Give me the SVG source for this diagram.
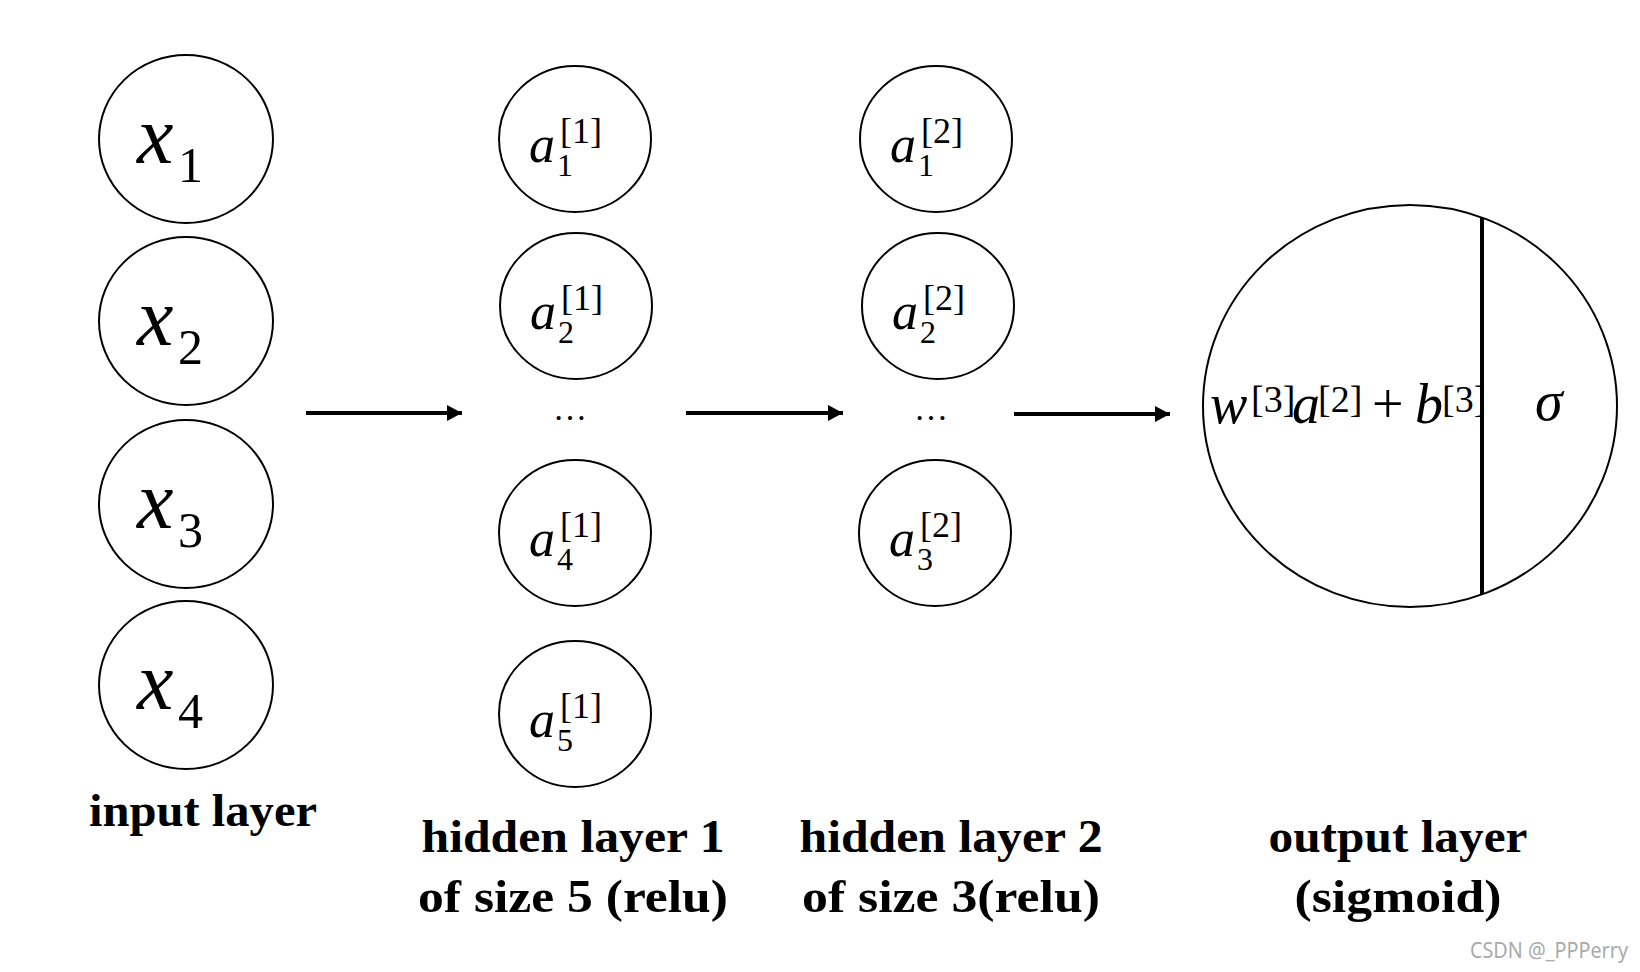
<svg xmlns="http://www.w3.org/2000/svg" width="1640" height="972" viewBox="0 0 1640 972">
<defs>
<style>
.node{fill:#fff;stroke:#000;stroke-width:2}
.m{font-family:"Liberation Serif",serif;font-style:italic;fill:#000}
.u{font-family:"Liberation Serif",serif;font-style:normal;fill:#000}
.lbl{font-family:"Liberation Serif",serif;font-weight:bold;font-size:46px;fill:#000;text-anchor:middle}
.conn{stroke:#000;stroke-width:4;fill:none}
</style>
<marker id="ah" markerWidth="16" markerHeight="16" refX="15" refY="8" orient="auto" markerUnits="userSpaceOnUse">
<path d="M0,0 L15,8 L0,16 Z" fill="#000"/>
</marker>
</defs>
<rect width="1640" height="972" fill="#fff"/>

<g id="x1"><ellipse class="node" cx="186" cy="139" rx="87" ry="84"/>
<text class="m" x="137" y="163" font-size="82">x</text><text class="u" x="178" y="182" font-size="50">1</text></g>
<g id="x2"><ellipse class="node" cx="186" cy="321" rx="87" ry="84"/>
<text class="m" x="137" y="345" font-size="82">x</text><text class="u" x="178" y="364" font-size="50">2</text></g>
<g id="x3"><ellipse class="node" cx="186" cy="504" rx="87" ry="84"/>
<text class="m" x="137" y="528" font-size="82">x</text><text class="u" x="178" y="547" font-size="50">3</text></g>
<g id="x4"><ellipse class="node" cx="186" cy="685" rx="87" ry="84"/>
<text class="m" x="137" y="709" font-size="82">x</text><text class="u" x="178" y="728" font-size="50">4</text></g>

<g id="h1_1"><ellipse class="node" cx="575" cy="139" rx="76" ry="73"/>
<text class="m" x="529" y="162" font-size="52">a</text><text class="u" x="557" y="176" font-size="32">1</text><text class="u" x="560" y="143" font-size="36">[1]</text></g>
<g id="h1_2"><ellipse class="node" cx="576" cy="306" rx="76" ry="73"/>
<text class="m" x="530" y="329" font-size="52">a</text><text class="u" x="558" y="343" font-size="32">2</text><text class="u" x="561" y="310" font-size="36">[1]</text></g>
<g id="h1_dots"><text class="u" x="570" y="420" font-size="34" text-anchor="middle">…</text></g>
<g id="h1_4"><ellipse class="node" cx="575" cy="533" rx="76" ry="73"/>
<text class="m" x="529" y="556" font-size="52">a</text><text class="u" x="557" y="570" font-size="32">4</text><text class="u" x="560" y="537" font-size="36">[1]</text></g>
<g id="h1_5"><ellipse class="node" cx="575" cy="714" rx="76" ry="73"/>
<text class="m" x="529" y="737" font-size="52">a</text><text class="u" x="557" y="751" font-size="32">5</text><text class="u" x="560" y="718" font-size="36">[1]</text></g>

<g id="h2_1"><ellipse class="node" cx="936" cy="139" rx="76" ry="73"/>
<text class="m" x="890" y="162" font-size="52">a</text><text class="u" x="918" y="176" font-size="32">1</text><text class="u" x="921" y="143" font-size="36">[2]</text></g>
<g id="h2_2"><ellipse class="node" cx="938" cy="306" rx="76" ry="73"/>
<text class="m" x="892" y="329" font-size="52">a</text><text class="u" x="920" y="343" font-size="32">2</text><text class="u" x="923" y="310" font-size="36">[2]</text></g>
<g id="h2_dots"><text class="u" x="931" y="420" font-size="34" text-anchor="middle">…</text></g>
<g id="h2_3"><ellipse class="node" cx="935" cy="533" rx="76" ry="73"/>
<text class="m" x="889" y="556" font-size="52">a</text><text class="u" x="917" y="570" font-size="32">3</text><text class="u" x="920" y="537" font-size="36">[2]</text></g>

<g id="output"><ellipse class="node" cx="1410" cy="406" rx="207" ry="201"/>
<line x1="1482" y1="218" x2="1482" y2="594" stroke="#000" stroke-width="4"/>
<text class="m" x="1210" y="423" font-size="56">w</text>
<text class="u" x="1251" y="412" font-size="38">[3]</text>
<text class="m" x="1292" y="423" font-size="56">a</text>
<text class="u" x="1318" y="412" font-size="38">[2]</text>
<text class="u" x="1372" y="423" font-size="56">+</text>
<text class="m" x="1415" y="423" font-size="56">b</text>
<text class="u" x="1442" y="412" font-size="38">[3]</text>
<text class="m" x="1535" y="420" font-size="56">σ</text>
</g>

<g id="connectors">
<line class="conn" x1="306" y1="413" x2="462" y2="413" marker-end="url(#ah)"/>
<line class="conn" x1="686" y1="413" x2="843" y2="413" marker-end="url(#ah)"/>
<line class="conn" x1="1014" y1="414" x2="1170" y2="414" marker-end="url(#ah)"/>
</g>

<g id="labels">
<text class="lbl" x="203" y="826" textLength="228" lengthAdjust="spacingAndGlyphs">input layer</text>
<text class="lbl" x="573" y="852" textLength="303" lengthAdjust="spacingAndGlyphs">hidden layer 1</text>
<text class="lbl" x="573" y="912" textLength="310" lengthAdjust="spacingAndGlyphs">of size 5 (relu)</text>
<text class="lbl" x="951" y="852" textLength="303" lengthAdjust="spacingAndGlyphs">hidden layer 2</text>
<text class="lbl" x="951" y="912" textLength="298" lengthAdjust="spacingAndGlyphs">of size 3(relu)</text>
<text class="lbl" x="1398" y="852" textLength="259" lengthAdjust="spacingAndGlyphs">output layer</text>
<text class="lbl" x="1398" y="912" textLength="207" lengthAdjust="spacingAndGlyphs">(sigmoid)</text>
</g>
<text x="1470" y="958" font-family="Noto Sans, sans-serif" font-size="21" fill="#aaa" textLength="158" lengthAdjust="spacingAndGlyphs">CSDN @_PPPerry</text>
</svg>
